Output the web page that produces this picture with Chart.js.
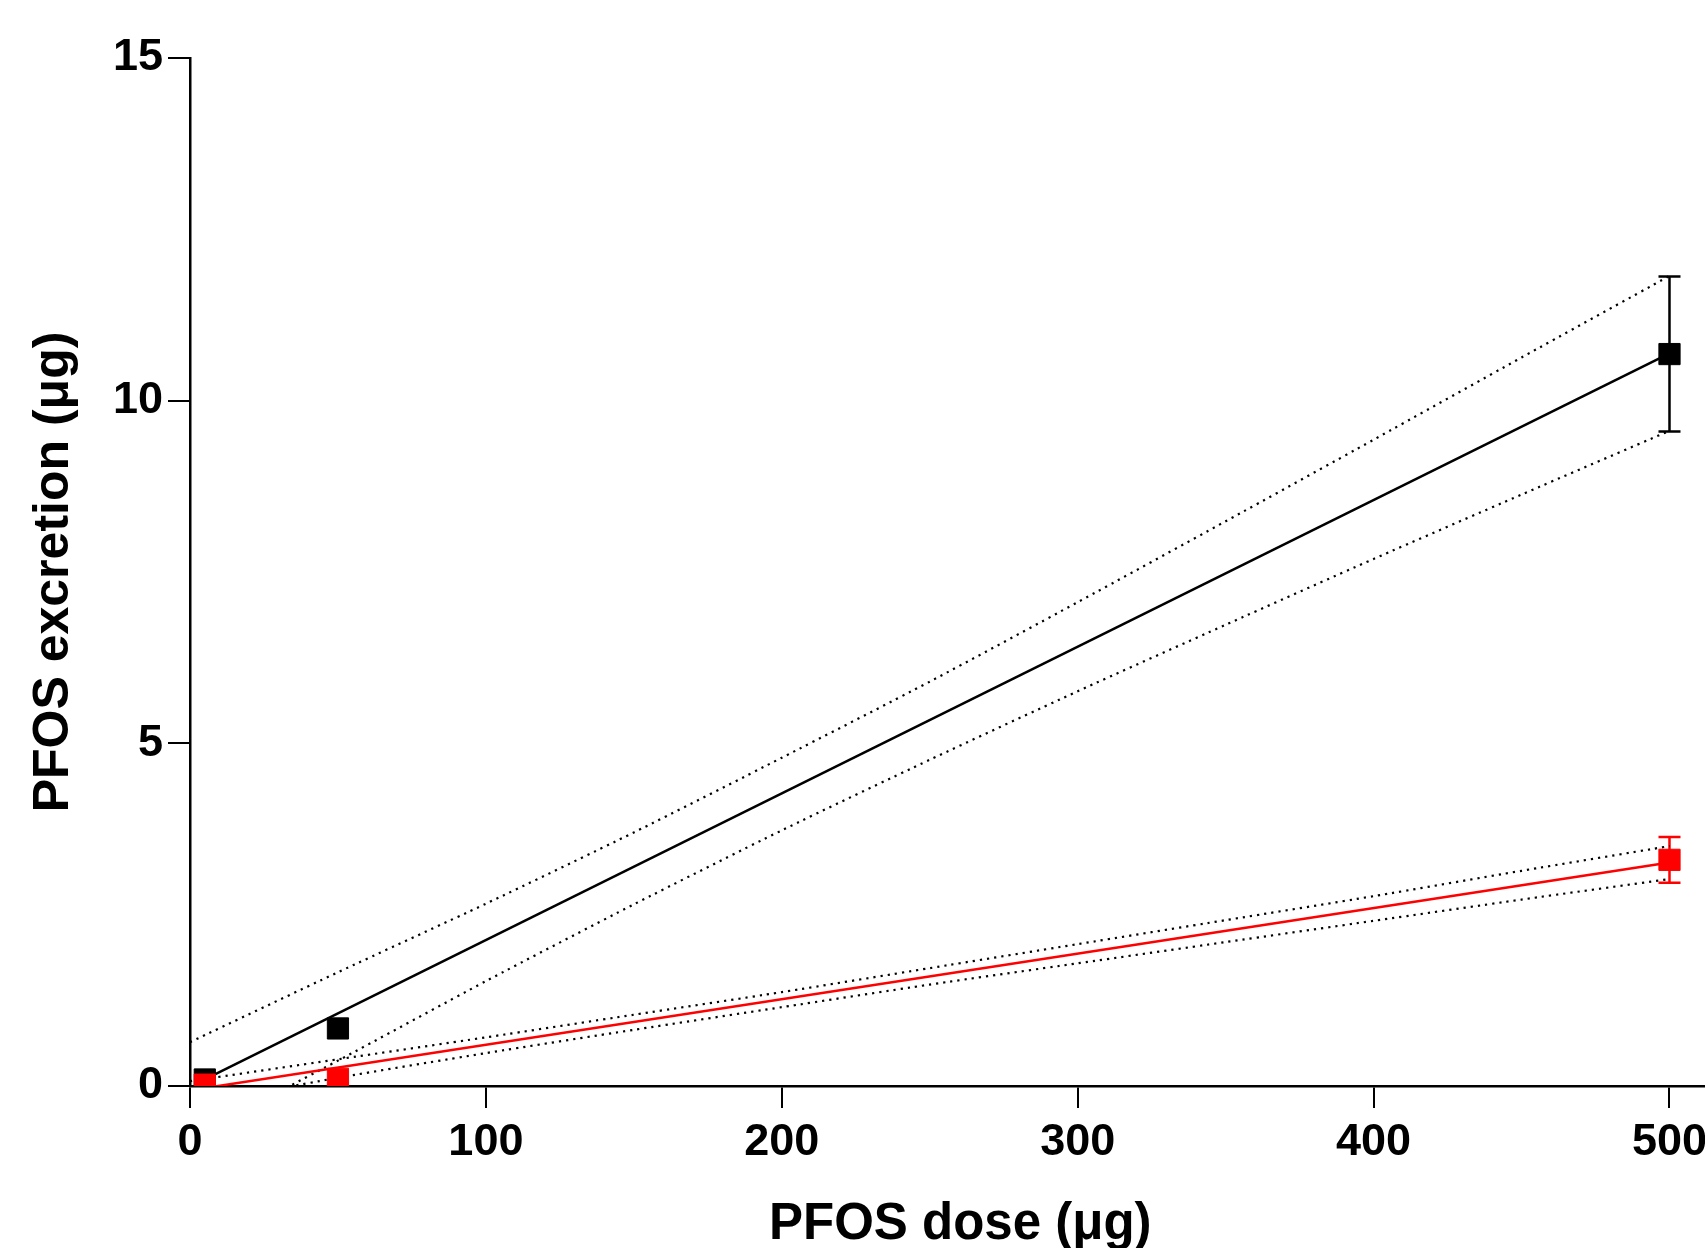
<!DOCTYPE html>
<html>
<head>
<meta charset="utf-8">
<title>PFOS excretion vs dose</title>
<script src="https://cdn.jsdelivr.net/npm/chart.js@4.4.1/dist/chart.umd.min.js"></script>
<style>
  html, body { margin: 0; padding: 0; background: #fff; overflow: hidden; }
  #wrap { width: 1705px; height: 1248px; }
</style>
</head>
<body>
<div id="wrap"><canvas id="mychart" width="1705" height="1248"></canvas></div>
<script>
// --- data ---
const doses = [5, 50, 500];
const blackMean = [0.095, 0.84, 10.68];
const blackErr = [0, 0, 1.13];
const redMean = [0.02, 0.105, 3.30];
const redErr = [0, 0, 0.335];

// fitted lines, drawn over the dose range
const fitX = [5, 500];
const blackFit = [0.097, 10.69];
const redFit = [-0.03, 3.26];

// 95% bands (dotted)
const bandX = [0, 50, 100, 150, 200, 250, 300, 350, 400, 450, 500];
const blackUpper = [0.64, 1.66, 2.66, 3.70, 4.79, 5.90, 7.06, 8.24, 9.43, 10.63, 11.82];
const blackLower = [-0.76, 0.37, 1.53, 2.65, 3.73, 4.76, 5.76, 6.73, 7.69, 8.63, 9.56];
const redUpper = [0.07, 0.39, 0.71, 1.04, 1.37, 1.72, 2.07, 2.42, 2.77, 3.14, 3.50];
const redLower = [-0.28, 0.12, 0.48, 0.82, 1.15, 1.48, 1.79, 2.10, 2.41, 2.72, 3.02];

const xTicks = [0, 100, 200, 300, 400, 500];
const yTicks = [0, 5, 10, 15];

const RED = '#ff0000';
const FONT = "'Liberation Sans', Arial, sans-serif";

function pts(xs, ys) {
  return xs.map((x, i) => ({ x: x, y: ys[i] }));
}

// error bars with caps, through the chart scales
const errorBars = {
  id: 'errorBars',
  beforeDatasetsDraw(chart) {
    const ctx = chart.ctx;
    const xs = chart.scales.x, ys = chart.scales.y;
    const groups = [[blackMean, blackErr, '#000'], [redMean, redErr, RED]];
    ctx.save();
    groups.forEach(([mean, err, col]) => {
      doses.forEach((d, i) => {
        if (!err[i]) return;
        const px = xs.getPixelForValue(d);
        const top = ys.getPixelForValue(mean[i] + err[i]);
        const bot = ys.getPixelForValue(mean[i] - err[i]);
        ctx.strokeStyle = col;
        ctx.lineWidth = 2.5;
        ctx.beginPath();
        ctx.moveTo(px, top); ctx.lineTo(px, bot);
        ctx.moveTo(px - 11, top); ctx.lineTo(px + 11, top);
        ctx.moveTo(px - 11, bot); ctx.lineTo(px + 11, bot);
        ctx.stroke();
      });
    });
    ctx.restore();
  }
};

const dotted = (data) => ({
  type: 'line',
  data: data,
  borderColor: '#000',
  borderWidth: 2.2,
  borderDash: [2.2, 5],
  pointRadius: 0,
  tension: 0.25,
  fill: false,
  order: 5
});

const chart = document.getElementById('mychart').getContext('2d');
const myChart = new Chart(chart, {
  type: 'scatter',
  data: {
    datasets: [
      {
        label: 'red',
        data: pts(doses, redMean),
        pointStyle: 'rect',
        pointRadius: 15,
        backgroundColor: RED,
        borderColor: RED,
        borderWidth: 1,
        showLine: false,
        order: 0
      },
      {
        label: 'black',
        data: pts(doses, blackMean),
        pointStyle: 'rect',
        pointRadius: 15,
        backgroundColor: '#000',
        borderColor: '#000',
        borderWidth: 1,
        showLine: false,
        order: 1
      },
      {
        type: 'line',
        label: 'red fit',
        data: pts(fitX, redFit),
        borderColor: RED,
        borderWidth: 2.5,
        pointRadius: 0,
        order: 2
      },
      {
        type: 'line',
        label: 'black fit',
        data: pts(fitX, blackFit),
        borderColor: '#000',
        borderWidth: 2.5,
        pointRadius: 0,
        order: 3
      },
      dotted(pts(bandX, blackUpper)),
      dotted(pts(bandX, blackLower)),
      dotted(pts(bandX, redUpper)),
      dotted(pts(bandX, redLower))
    ]
  },
  options: {
    responsive: false,
    animation: false,
    devicePixelRatio: 1,
    layout: { autoPadding: false, padding: { top: 58, right: 0, left: 0, bottom: 0 } },
    plugins: { legend: { display: false }, tooltip: { enabled: false } },
    scales: {
      x: {
        type: 'linear',
        min: 0,
        max: 512,
        afterFit: (s) => { s.height = 162; s.paddingRight = 0; s.paddingLeft = 0; },
        afterBuildTicks: (s) => { s.ticks = xTicks.map(v => ({ value: v })); },
        grid: { drawOnChartArea: false, tickLength: 22, color: '#000', lineWidth: 2 },
        border: { color: '#000', width: 2.5 },
        ticks: { color: '#000', padding: 8, font: { family: FONT, size: 45, weight: 'bold' } },
        title: {
          display: true,
          text: '\u2002PFOS dose (μg)',
          color: '#000',
          font: { family: FONT, size: 51, weight: 'bold' },
          padding: { top: 0, bottom: -8 }
        }
      },
      y: {
        type: 'linear',
        min: 0,
        max: 15,
        afterFit: (s) => { s.width = 190; s.paddingTop = 0; s.paddingBottom = 0; },
        afterBuildTicks: (s) => { s.ticks = yTicks.map(v => ({ value: v })); },
        grid: { drawOnChartArea: false, tickLength: 22, color: '#000', lineWidth: 2 },
        border: { color: '#000', width: 2.5 },
        ticks: { color: '#000', padding: 5, font: { family: FONT, size: 45, weight: 'bold' } },
        title: {
          display: true,
          text: 'PFOS excretion (μg)',
          color: '#000',
          font: { family: FONT, size: 50, weight: 'bold' },
          padding: { top: 24, bottom: 0 }
        }
      }
    }
  },
  plugins: [errorBars]
});
</script>
</body>
</html>
